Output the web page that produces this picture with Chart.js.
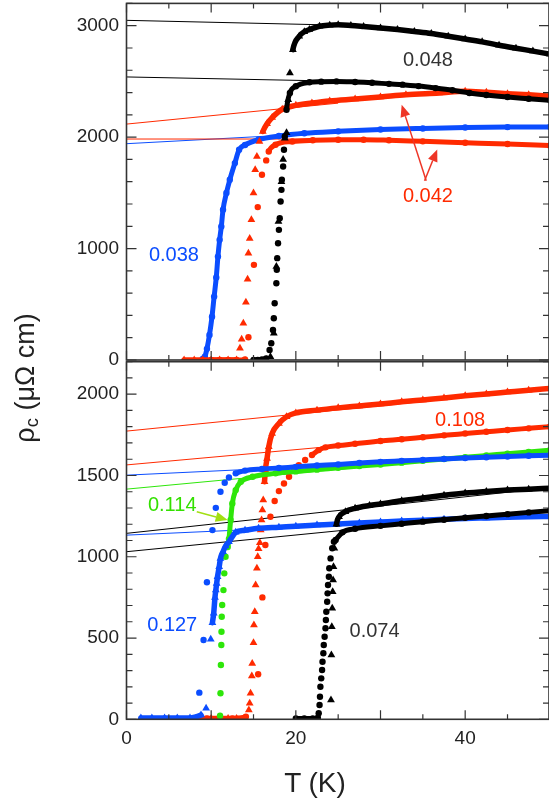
<!DOCTYPE html>
<html>
<head>
<meta charset="utf-8">
<script src="https://cdn.jsdelivr.net/npm/chart.js@4.4.1/dist/chart.umd.min.js"></script>
<style>
  html, body { margin: 0; padding: 0; background: #fff; overflow: hidden; }
  #wrap { position: relative; width: 549px; height: 805px; }
  canvas { position: absolute; left: 0; top: 0; }
  .axis-title { position: absolute; font-family: 'Liberation Sans', Arial, Helvetica, sans-serif; color: #222; white-space: nowrap; }
  #xTitle { left: 215px; top: 769px; width: 200px; text-align: center; font-size: 28px; line-height: 28px; }
  #yTitle { left: -75px; top: 363px; width: 200px; height: 30px; text-align: center; font-size: 27px; line-height: 30px; transform: rotate(-90deg); }
  #yTitle sub { font-size: 0.68em; vertical-align: -0.22em; line-height: 0; }
</style>
</head>
<body>
<div id="wrap">
  <canvas id="topChart" width="549" height="805"></canvas>
  <canvas id="bottomChart" width="549" height="805"></canvas>
  <div id="yTitle" class="axis-title">ρ<sub>c</sub> (μΩ cm)</div>
  <div id="xTitle" class="axis-title">T (K)</div>
</div>
<script>
// ---- tick labels ----
const xTickLabels = [0, 20, 40];
const topYTicks = [0, 1000, 2000, 3000];
const botYTicks = [0, 500, 1000, 1500, 2000];

// ---- top panel: T (K) / rho_c (uOhm cm) ----
// 0.048, triangles
const topBlackTriT = [17.0, 17.4, 17.7, 17.95, 18.3, 18.5, 18.7, 18.9, 19.1, 19.3, 19.65, 20.4, 21.0, 21.6, 22.8, 24.0, 25.0, 26.5, 28.0, 30.0, 32.0, 34.0, 36.0, 38.0, 40.0, 42.0, 44.0, 46.0, 48.0, 50.0];
const topBlackTriR = [30, 240, 838, 1243, 1600, 1800, 1991, 2040, 2336, 2576, 2785, 2905, 2945, 2965, 2995, 3005, 3008, 3002, 2993, 2980, 2965, 2948, 2930, 2905, 2880, 2855, 2825, 2798, 2772, 2745];
// 0.048, circles
const topBlackCircT = [15.0, 15.5, 16.0, 16.5, 16.9, 17.1, 17.3, 17.4, 17.5, 17.7, 17.75, 17.8, 17.9, 18.0, 18.1, 18.2, 18.3, 18.35, 18.5, 18.6, 18.7, 18.9, 19.3, 20.0, 21.6, 23.0, 24.8, 27.0, 29.0, 31.0, 32.6, 34.5, 36.5, 38.5, 40.5, 42.5, 45.0, 47.5, 50.0];
const topBlackCircR = [0, 0, 5, 15, 90, 150, 270, 375, 509, 689, 809, 914, 1048, 1168, 1273, 1422, 1527, 1617, 1737, 1887, 2006, 2246, 2396, 2456, 2492, 2498, 2500, 2495, 2488, 2478, 2471, 2458, 2440, 2420, 2396, 2378, 2360, 2345, 2330];
// 0.042, triangles
const topRedTriT = [6.8, 8.0, 9.0, 10.0, 11.0, 12.0, 13.0, 13.4, 13.6, 13.8, 14.1, 14.3, 14.4, 14.55, 14.75, 15.0, 15.2, 15.4, 15.7, 16.1, 16.6, 17.2, 18.4, 20.0, 21.9, 24.0, 27.0, 30.0, 33.0, 36.9, 40.0, 42.5, 45.0, 47.5, 50.0];
const topRedTriR = [0, 0, 0, 0, 0, 0, 0, 105, 186, 330, 518, 725, 959, 1090, 1258, 1498, 1707, 1827, 1961, 2051, 2120, 2175, 2250, 2285, 2306, 2325, 2342, 2360, 2380, 2396, 2411, 2402, 2390, 2380, 2368];
// 0.042, circles
const topRedCircT = [10.0, 11.0, 12.0, 13.0, 14.0, 14.4, 15.05, 15.5, 16.0, 16.5, 16.8, 17.6, 19.6, 22.0, 25.0, 28.0, 31.0, 35.0, 40.0, 45.0, 50.0];
const topRedCircR = [0, 0, 0, 0, 6, 204, 854, 1372, 1662, 1791, 1871, 1932, 1961, 1972, 1977, 1977, 1972, 1962, 1950, 1938, 1925];
// 0.038, circles
const topBlueT = [9.0, 9.25, 9.5, 9.8, 10.1, 10.35, 10.6, 10.8, 11.0, 11.2, 11.4, 11.8, 12.2, 12.8, 13.3, 14.0, 15.6, 18.0, 21.0, 25.0, 30.0, 35.0, 40.0, 45.0, 50.0];
const topBlueR = [10, 30, 100, 225, 389, 569, 740, 928, 1078, 1198, 1348, 1498, 1617, 1767, 1887, 1930, 1977, 2010, 2035, 2052, 2068, 2078, 2086, 2090, 2092];
// straight guide lines (top)
const topFitT = [0, 25];
const topFitBlack1 = [3048, 3005];
const topFitBlack2 = [2540, 2502];
const topFitRed1 = [2117, 2305];
const topFitRed2 = [1983, 1983];
const topFitBlue = [1941, 2043];

// ---- bottom panel ----
// 0.108, triangles
const botRedTriT = [8.7, 10.0, 11.0, 12.0, 13.0, 14.0, 14.45, 14.55, 14.65, 14.8, 14.85, 15.0, 15.05, 15.15, 15.25, 15.4, 15.5, 15.6, 15.75, 15.85, 15.95, 16.05, 16.15, 16.3, 16.4, 16.6, 16.8, 17.2, 18.0, 18.9, 20.0, 22.5, 25.0, 27.5, 30.0, 32.5, 35.0, 37.5, 40.0, 42.5, 45.0, 47.5, 50.0];
const botRedTriR = [5, 5, 5, 5, 5, 5, 57, 98, 160, 266, 344, 471, 580, 662, 826, 929, 1000, 1050, 1086, 1164, 1226, 1287, 1349, 1461, 1533, 1605, 1677, 1759, 1820, 1861, 1885, 1902, 1916, 1928, 1940, 1953, 1965, 1977, 1990, 2001, 2013, 2025, 2036];
// 0.108, circles
const botRedCircT = [9.5, 11.0, 12.5, 14.1, 15.55, 16.05, 16.4, 17.0, 17.5, 18.0, 18.6, 19.2, 19.8, 20.35, 21.1, 21.9, 22.7, 23.5, 25.0, 27.0, 30.0, 32.5, 35.0, 37.5, 40.0, 42.5, 45.0, 47.5, 50.0];
const botRedCircR = [5, 5, 5, 16, 277, 750, 1072, 1246, 1343, 1404, 1451, 1492, 1533, 1564, 1595, 1626, 1656, 1673, 1684, 1695, 1712, 1723, 1735, 1747, 1758, 1769, 1780, 1790, 1800];
// 0.114, circles
const botGreenT = [11.05, 11.1, 11.15, 11.2, 11.22, 11.25, 11.3, 11.45, 11.55, 11.7, 11.95, 12.1, 12.3, 12.5, 12.9, 13.5, 14.9, 17.6, 20.0, 22.5, 25.0, 27.5, 30.0, 32.5, 35.0, 37.5, 40.0, 42.5, 45.0, 47.5, 50.0];
const botGreenR = [22, 160, 334, 457, 539, 631, 703, 795, 898, 1000, 1060, 1110, 1226, 1328, 1410, 1461, 1492, 1513, 1525, 1536, 1547, 1558, 1568, 1579, 1590, 1601, 1612, 1623, 1634, 1645, 1656];
// 0.127, circles
const botBlueCircT = [8.6, 9.1, 9.5, 10.15, 10.55, 11.1, 11.6, 12.1, 12.9, 14.0, 16.0, 18.0, 20.0, 22.5, 25.0, 27.5, 30.0, 32.5, 35.0, 37.5, 40.0, 42.5, 45.0, 47.5, 50.0];
const botBlueCircR = [164, 488, 843, 1164, 1301, 1400, 1455, 1488, 1513, 1530, 1540, 1546, 1553, 1561, 1568, 1577, 1584, 1590, 1596, 1602, 1607, 1612, 1617, 1621, 1625];
// 0.127, triangles
const botBlueTriT = [1.7, 3.0, 4.5, 6.0, 7.5, 8.8, 9.4, 9.95, 10.15, 10.3, 10.45, 10.55, 10.65, 10.75, 10.95, 11.1, 11.4, 11.7, 12.1, 12.9, 14.0, 15.6, 18.0, 20.0, 22.5, 25.0, 27.5, 30.0, 32.5, 35.0, 37.5, 40.0, 42.5, 45.0, 47.5, 50.0];
const botBlueTriR = [8, 8, 8, 8, 8, 26, 68, 492, 594, 652, 750, 795, 836, 877, 939, 990, 1031, 1066, 1092, 1150, 1163, 1175, 1182, 1188, 1195, 1202, 1208, 1214, 1220, 1225, 1230, 1235, 1239, 1243, 1246, 1248];
// 0.074, circles
const botBlackCircT = [20.0, 21.0, 22.0, 22.6, 22.7, 22.8, 22.85, 22.9, 23.0, 23.1, 23.15, 23.25, 23.3, 23.4, 23.5, 23.55, 23.6, 23.7, 23.75, 23.8, 23.9, 23.95, 24.1, 24.3, 24.5, 24.7, 25.5, 27.0, 30.0, 32.5, 35.0, 37.5, 40.0, 42.5, 45.0, 47.5, 50.0];
const botBlackCircR = [5, 5, 5, 10, 37, 88, 139, 200, 252, 303, 354, 406, 457, 508, 560, 611, 662, 723, 775, 826, 877, 929, 990, 1052, 1092, 1103, 1150, 1172, 1190, 1203, 1216, 1228, 1240, 1251, 1262, 1273, 1284];
// 0.074, triangles
const botBlackTriT = [24.15, 24.2, 24.25, 24.3, 24.35, 24.4, 24.45, 24.55, 24.8, 25.1, 25.85, 27.0, 28.7, 30.0, 32.5, 35.0, 37.5, 40.0, 42.5, 45.0, 47.5, 50.0];
const botBlackTriR = [119, 396, 570, 683, 785, 857, 939, 1052, 1200, 1246, 1277, 1298, 1315, 1325, 1345, 1362, 1378, 1392, 1402, 1410, 1416, 1421];
// straight guide lines (bottom)
const botFitT = [0, 50];
const botFitRed1 = [1773, 2033];
const botFitRed2 = [1565, 1800];
const botFitGreen = [1416, 1660];
const botFitBlue1 = [1502, 1625];
const botFitBlue2 = [1133, 1250];
const botFitBlack1 = [1144, 1425];
const botFitBlack2 = [1031, 1288];

const RED = '#ff2a00';
const BLUE = '#0b4dff';
const GREEN = '#2ee60a';
const BLACK = '#000000';
const FONT = "'Liberation Sans', Arial, Helvetica, sans-serif";
const X_MAX = 49.9;

// gap = T range where the sparse points are not joined by the band
const topSeries = [
    { T: topBlackTriT, R: topBlackTriR, color: BLACK, shape: 'triangle', gap: [17.0, 19.65] },
    { T: topBlackCircT, R: topBlackCircR, color: BLACK, shape: 'circle', gap: [16.5, 18.9] },
    { T: topRedTriT, R: topRedTriR, color: RED, shape: 'triangle', gap: [13.0, 16.1] },
    { T: topRedCircT, R: topRedCircR, color: RED, shape: 'circle', gap: [14.0, 16.8] },
    { T: topBlueT, R: topBlueR, color: BLUE, shape: 'circle', gap: null }
];
const topFits = [
    { T: topFitT, R: topFitBlack1, color: BLACK },
    { T: topFitT, R: topFitBlack2, color: BLACK },
    { T: topFitT, R: topFitRed1, color: RED },
    { T: topFitT, R: topFitRed2, color: RED },
    { T: topFitT, R: topFitBlue, color: BLUE }
];
const botSeries = [
    { T: botBlackTriT, R: botBlackTriR, color: BLACK, shape: 'triangle', gap: [24.15, 24.8] },
    { T: botBlackCircT, R: botBlackCircR, color: BLACK, shape: 'circle', gap: [22.6, 24.7] },
    { T: botBlueTriT, R: botBlueTriR, color: BLUE, shape: 'triangle', gap: [8.8, 10.15] },
    { T: botBlueCircT, R: botBlueCircR, color: BLUE, shape: 'circle', gap: [8.6, 12.9] },
    { T: botGreenT, R: botGreenR, color: GREEN, shape: 'circle', gap: [11.05, 11.95] },
    { T: botRedTriT, R: botRedTriR, color: RED, shape: 'triangle', gap: [14.0, 16.3] },
    { T: botRedCircT, R: botRedCircR, color: RED, shape: 'circle', gap: [14.1, 21.9] }
];
const botFits = [
    { T: botFitT, R: botFitRed1, color: RED },
    { T: botFitT, R: botFitRed2, color: RED },
    { T: botFitT, R: botFitGreen, color: GREEN },
    { T: botFitT, R: botFitBlue1, color: BLUE },
    { T: botFitT, R: botFitBlue2, color: BLUE },
    { T: botFitT, R: botFitBlack1, color: BLACK },
    { T: botFitT, R: botFitBlack2, color: BLACK }
];

// text labels and arrows, in data units
const topNotes = {
    labels: [
        { text: '0.048', x: 35.6, y: 2686, color: '#333' },
        { text: '0.042', x: 35.6, y: 1465, color: RED },
        { text: '0.038', x: 5.6, y: 934, color: BLUE }
    ],
    arrows: [
        { from: [35.4, 1608], to: [32.5, 2291], color: '#ee3526' },
        { from: [35.2, 1608], to: [36.7, 1890], color: '#ee3526' }
    ]
};
const botNotes = {
    labels: [
        { text: '0.108', x: 39.4, y: 1841, color: RED },
        { text: '0.114', x: 5.4, y: 1318, color: '#33e000' },
        { text: '0.127', x: 5.4, y: 580, color: BLUE },
        { text: '0.074', x: 29.3, y: 543, color: '#333' }
    ],
    arrows: [
        { from: [8.3, 1277], to: [11.95, 1226], color: '#a2df12' }
    ]
};

function toPoints(T, R) {
    return T.map((t, i) => ({ x: t, y: R[i] }));
}

function seriesDataset(s) {
    const isTri = s.shape === 'triangle';
    const inGap = (c) => s.gap && s.T[c.p0DataIndex] >= s.gap[0] && s.T[c.p1DataIndex] <= s.gap[1];
    return {
        data: toPoints(s.T, s.R),
        showLine: true,
        borderColor: s.color,
        backgroundColor: s.color,
        borderWidth: isTri ? 5.5 : 5,
        borderCapStyle: 'round',
        borderJoinStyle: 'round',
        cubicInterpolationMode: 'monotone',
        pointStyle: s.shape,
        pointRadius: isTri ? 4.5 : 3.2,
        pointBorderWidth: 0,
        pointBackgroundColor: s.color,
        clip: 0,
        segment: {
            borderColor: c => inGap(c) ? 'rgba(0,0,0,0)' : s.color
        }
    };
}

function fitDataset(f) {
    return {
        data: toPoints(f.T, f.R),
        showLine: true,
        borderColor: f.color,
        borderWidth: 1,
        pointRadius: 0,
        tension: 0,
        clip: 0
    };
}

// frame and inward ticks on all four sides
const framePlugin = {
    id: 'frame',
    afterDatasetsDraw(chart, args, opts) {
        const { ctx, chartArea: a } = chart;
        const x = chart.scales.x;
        const y = chart.scales.y;
        ctx.save();
        ctx.strokeStyle = '#333';
        ctx.lineWidth = 1.2;
        ctx.beginPath();
        for (let t = 0; t <= X_MAX + 1e-6; t += opts.xMinor) {
            const px = x.getPixelForValue(t);
            const len = (t % opts.xMajor === 0) ? 9 : 5;
            ctx.moveTo(px, a.bottom);
            ctx.lineTo(px, a.bottom - len);
            ctx.moveTo(px, a.top);
            ctx.lineTo(px, a.top + len);
        }
        for (let v = 0; v <= y.max + 1e-6; v += opts.yMinor) {
            const py = y.getPixelForValue(v);
            const len = (v % opts.yMajor === 0) ? 10 : 6;
            ctx.moveTo(a.left, py);
            ctx.lineTo(a.left + len, py);
            ctx.moveTo(a.right, py);
            ctx.lineTo(a.right - len, py);
        }
        ctx.stroke();
        ctx.lineWidth = 1.6;
        ctx.strokeRect(a.left, a.top, a.right - a.left, a.bottom - a.top);
        ctx.restore();
    }
};

const notesPlugin = {
    id: 'notes',
    afterDatasetsDraw(chart, args, opts) {
        const { ctx } = chart;
        const x = chart.scales.x;
        const y = chart.scales.y;
        ctx.save();
        opts.arrows.forEach(ar => {
            const x0 = x.getPixelForValue(ar.from[0]), y0 = y.getPixelForValue(ar.from[1]);
            const x1 = x.getPixelForValue(ar.to[0]), y1 = y.getPixelForValue(ar.to[1]);
            const ang = Math.atan2(y1 - y0, x1 - x0);
            const head = 12, half = 5;
            const bx = x1 - head * Math.cos(ang), by = y1 - head * Math.sin(ang);
            ctx.strokeStyle = ar.color;
            ctx.fillStyle = ar.color;
            ctx.lineWidth = 1.5;
            ctx.beginPath();
            ctx.moveTo(x0, y0);
            ctx.lineTo(bx, by);
            ctx.stroke();
            ctx.beginPath();
            ctx.moveTo(x1, y1);
            ctx.lineTo(bx + half * Math.sin(ang), by - half * Math.cos(ang));
            ctx.lineTo(bx - half * Math.sin(ang), by + half * Math.cos(ang));
            ctx.closePath();
            ctx.fill();
        });
        ctx.font = '20px ' + FONT;
        ctx.textAlign = 'center';
        ctx.textBaseline = 'middle';
        opts.labels.forEach(l => {
            ctx.fillStyle = l.color;
            ctx.fillText(l.text, x.getPixelForValue(l.x), y.getPixelForValue(l.y));
        });
        ctx.restore();
    }
};

function noPadding(s) {
    s.paddingTop = 0;
    s.paddingBottom = 0;
    s.paddingLeft = 0;
    s.paddingRight = 0;
}

function yScale(max, ticks) {
    return {
        type: 'linear',
        min: 0,
        max: max,
        afterFit: s => { s.width = 126.5; noPadding(s); },
        afterBuildTicks: s => { s.ticks = ticks.map(v => ({ value: v })); },
        grid: { display: false, drawTicks: false },
        border: { display: false },
        ticks: {
            color: '#222',
            padding: 7.5,
            font: { family: FONT, size: 19 },
            callback: v => String(v)
        }
    };
}

const baseOptions = {
    responsive: false,
    animation: false,
    events: []
};

new Chart(document.getElementById('topChart'), {
    type: 'scatter',
    data: { datasets: [...topSeries.map(seriesDataset), ...topFits.map(fitDataset)] },
    options: {
        ...baseOptions,
        layout: { padding: { left: 0, right: 0, top: 3.4, bottom: 445 }, autoPadding: false },
        plugins: {
            legend: { display: false },
            tooltip: { enabled: false },
            frame: { xMinor: 5, xMajor: 10, yMinor: 200, yMajor: 1000 },
            notes: topNotes
        },
        scales: {
            x: { type: 'linear', min: 0, max: X_MAX, display: false },
            y: yScale(3200, topYTicks)
        }
    },
    plugins: [framePlugin, notesPlugin]
});

new Chart(document.getElementById('bottomChart'), {
    type: 'scatter',
    data: { datasets: [...botSeries.map(seriesDataset), ...botFits.map(fitDataset)] },
    options: {
        ...baseOptions,
        layout: { padding: { left: 0, right: 0, top: 361.7, bottom: 0 }, autoPadding: false },
        plugins: {
            legend: { display: false },
            tooltip: { enabled: false },
            frame: { xMinor: 5, xMajor: 10, yMinor: 100, yMajor: 500 },
            notes: botNotes
        },
        scales: {
            x: {
                type: 'linear',
                min: 0,
                max: X_MAX,
                position: 'bottom',
                afterFit: s => { s.height = 85.7; noPadding(s); },
                afterBuildTicks: s => { s.ticks = xTickLabels.map(v => ({ value: v })); },
                grid: { display: false, drawTicks: false },
                border: { display: false },
                ticks: {
                    color: '#222',
                    padding: 8,
                    maxRotation: 0,
                    autoSkip: false,
                    font: { family: FONT, size: 19 },
                    callback: v => String(v)
                }
            },
            y: yScale(2200, botYTicks)
        }
    },
    plugins: [framePlugin, notesPlugin]
});
</script>
</body>
</html>
